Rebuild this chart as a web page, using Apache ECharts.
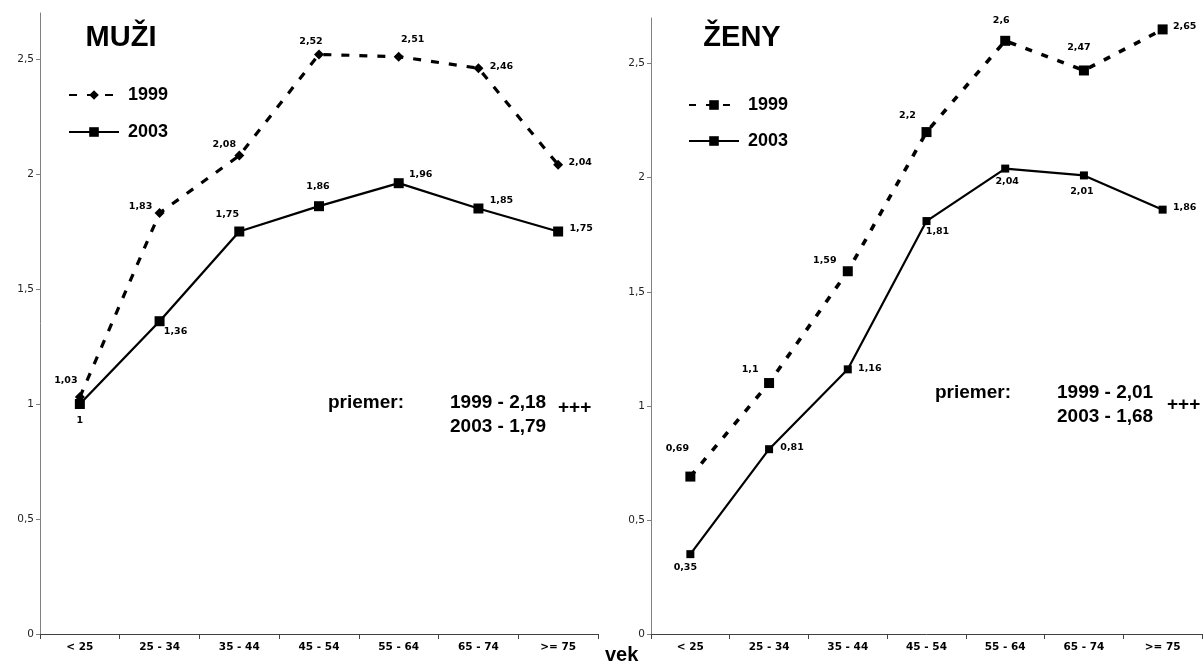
<!DOCTYPE html>
<html>
<head>
<meta charset="utf-8">
<script src="https://cdn.jsdelivr.net/npm/echarts@6/dist/echarts.min.js"></script>
<style>
html,body{margin:0;padding:0;background:#fff;}
#c{width:1203px;height:663px;}
</style>
</head>
<body>
<div id="c"></div>
<script>
// ---- data ----
var categories = ['< 25', '25 - 34', '35 - 44', '45 - 54', '55 - 64', '65 - 74', '>= 75'];
var muzi1999 = [1.03, 1.83, 2.08, 2.52, 2.51, 2.46, 2.04];
var muzi2003 = [1.00, 1.36, 1.75, 1.86, 1.96, 1.85, 1.75];
var zeny1999 = [0.69, 1.1, 1.59, 2.2, 2.6, 2.47, 2.65];
var zeny2003 = [0.35, 0.81, 1.16, 1.81, 2.04, 2.01, 1.86];
var yTicks = [0, 0.5, 1, 1.5, 2, 2.5];
var seriesNames = ['1999', '2003'];

// ---- label placement (style, not data) ----
var offM99 = [[-14,-17],[-19,-7],[-15,-11],[-8,-13],[14,-17],[23,-2],[22,-2]];
var offM03 = [[0,17],[16,10],[-12,-17],[-1,-20],[22,-9],[23,-8],[23,-3]];
var offZ99 = [[-13,-28],[-19,-14],[-23,-11],[-19,-17],[-4,-20],[-5,-23],[22,-3]];
var offZ03 = [[-5,13],[23,-2],[22,-1],[11,10],[2,13],[-2,16],[22,-2]];

function fmt(v){ return String(v).replace('.', ','); }
function items(vals, offs){
  return vals.map(function(v,i){ return {value:v, label:{offset:offs[i]}}; });
}
var labelBase = {
  show:true, position:'inside', color:'#000',
  fontFamily:'DejaVu Sans', fontWeight:'bold', fontSize:9.5,
  formatter:function(p){ return fmt(p.value); }
};
function xAx(gi){
  return {
    type:'category', gridIndex:gi, data:categories, boundaryGap:true,
    axisLine:{lineStyle:{color:'#404040', width:1}},
    axisTick:{show:true, length:5, alignWithLabel:false, lineStyle:{color:'#404040'}},
    axisLabel:{color:'#000', fontFamily:'DejaVu Sans', fontWeight:'bold', fontSize:10.5, margin:8, interval:0},
    splitLine:{show:false}
  };
}
function yAx(gi){
  return {
    type:'value', gridIndex:gi, min:0, max:2.7, interval:0.5,
    axisLine:{show:true, lineStyle:{color:'#808080', width:1}},
    axisTick:{show:true, length:4, customValues:yTicks, lineStyle:{color:'#808080'}},
    axisLabel:{color:'#222', fontFamily:'DejaVu Sans', fontSize:10.5, margin:6, customValues:yTicks,
      formatter:function(v){ return fmt(v); }},
    splitLine:{show:false}
  };
}
var bigFont = 'bold 19px "Liberation Sans", Arial, sans-serif';
function txt(t, x, y, font, align){
  return {type:'text', silent:true, style:{text:t, x:x, y:y, font:font, fill:'#000', align:align||'left', verticalAlign:'middle'}};
}
var legendText = {color:'#000', fontFamily:'Liberation Sans', fontWeight:'bold', fontSize:18, lineHeight:18, padding:[0,0,0,4]};

var option = {
  backgroundColor:'#fff',
  animation:false,
  grid:[
    {left:40, top:13, width:558, bottom:29, containLabel:false},
    {left:651, top:18, width:551, bottom:29, containLabel:false}
  ],
  xAxis:[xAx(0), xAx(1)],
  yAxis:[yAx(0), yAx(1)],
  legend:[
    {data:[seriesNames[0], seriesNames[1]], orient:'vertical', left:68, top:86, padding:0, itemWidth:50, itemHeight:12, itemGap:19, selectedMode:false,
      textStyle:legendText},
    {data:[seriesNames[0]+' ', seriesNames[1]+' '], orient:'vertical', left:688, top:96, padding:0, itemWidth:50, itemHeight:12, itemGap:18, selectedMode:false,
      textStyle:legendText}
  ],
  series:[
    {name:seriesNames[0], type:'line', xAxisIndex:0, yAxisIndex:0, data:items(muzi1999, offM99),
      symbol:'diamond', symbolSize:10, itemStyle:{color:'#000'},
      lineStyle:{color:'#000', width:3.2, type:[8,10]}, label:labelBase},
    {name:seriesNames[1], type:'line', xAxisIndex:0, yAxisIndex:0, data:items(muzi2003, offM03),
      symbol:'rect', symbolSize:10, itemStyle:{color:'#000'},
      lineStyle:{color:'#000', width:2.3}, label:labelBase},
    {name:seriesNames[0]+' ', type:'line', xAxisIndex:1, yAxisIndex:1, data:items(zeny1999, offZ99),
      symbol:'rect', symbolSize:10, itemStyle:{color:'#000'},
      lineStyle:{color:'#000', width:3.6, type:[7,10]}, label:labelBase},
    {name:seriesNames[1]+' ', type:'line', xAxisIndex:1, yAxisIndex:1, data:items(zeny2003, offZ03),
      symbol:'rect', symbolSize:8, itemStyle:{color:'#000'},
      lineStyle:{color:'#000', width:2.2}, label:labelBase}
  ],
  graphic:[
    txt('MUŽI', 121, 38, 'bold 29px "Liberation Sans", Arial, sans-serif', 'center'),
    txt('ŽENY', 742, 38, 'bold 29px "Liberation Sans", Arial, sans-serif', 'center'),
    txt('priemer:', 328, 403, bigFont),
    txt('1999 - 2,18', 450, 403, bigFont),
    txt('2003 - 1,79', 450, 427, bigFont),
    txt('+++', 558, 408, bigFont),
    txt('priemer:', 935, 393, bigFont),
    txt('1999 - 2,01', 1057, 393, bigFont),
    txt('2003 - 1,68', 1057, 417, bigFont),
    txt('+++', 1167, 405, bigFont),
    txt('vek', 605, 655, 'bold 20px "Liberation Sans", Arial, sans-serif')
  ]
};
var chart = echarts.init(document.getElementById('c'), null, {renderer:'canvas'});
chart.setOption(option);
</script>
</body>
</html>
